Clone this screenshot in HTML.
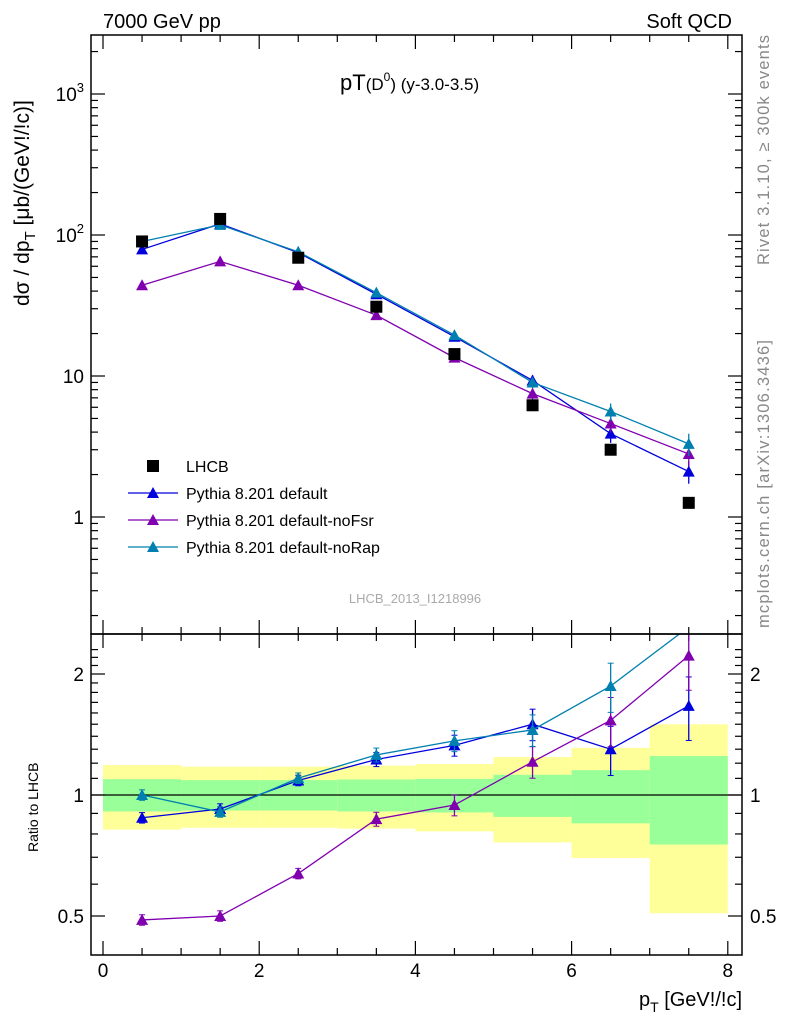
<!DOCTYPE html>
<html><head><meta charset="utf-8"><style>
body{margin:0;background:#fff;}
svg{display:block;font-family:"Liberation Sans",sans-serif;}
</style></head><body>
<svg id="c" width="786" height="1024" xmlns="http://www.w3.org/2000/svg">
<text x="103" y="28" font-size="20">7000 GeV pp</text>
<text x="732" y="28" font-size="20" text-anchor="end">Soft QCD</text>
<text x="340" y="90" font-size="22">pT<tspan font-size="17">(D</tspan><tspan font-size="12" dy="-9">0</tspan><tspan font-size="17" dy="9">) (y-3.0-3.5)</tspan></text>
<text transform="translate(29,306) rotate(-90)" font-size="21">dσ / dp<tspan font-size="15" dy="6">T</tspan><tspan dy="-6"> [μb/(GeV!/!c)]</tspan></text>
<text transform="translate(38,852) rotate(-90)" font-size="14">Ratio to LHCB</text>
<text x="742" y="1006" font-size="20" text-anchor="end">p<tspan font-size="14" dy="6">T</tspan><tspan dy="-6"> [GeV!/!c]</tspan></text>
<text transform="translate(769,265) rotate(-90)" font-size="16.5" fill="#888" textLength="230">Rivet 3.1.10, ≥ 300k events</text>
<text transform="translate(769,628) rotate(-90)" font-size="16.5" fill="#888" textLength="288">mcplots.cern.ch [arXiv:1306.3436]</text>
<text x="415" y="603" font-size="13" fill="#aaa" text-anchor="middle">LHCB_2013_I1218996</text>
<g id="bands"></g><g id="ticks"></g><g id="series"></g>
<rect x="91" y="35" width="651" height="599" fill="none" stroke="#000" stroke-width="1.5"/>
<rect x="91" y="634" width="651" height="321" fill="none" stroke="#000" stroke-width="1.5"/>
<g id="legend"></g>
</svg>
<script>
const xs=[0.5,1.5,2.5,3.5,4.5,5.5,6.5,7.5];
const lhcb=[90,130,69,31,14.3,6.2,3.0,1.26];
const pDef=[79,120,75,38,19,9.3,3.9,2.1];
const pNoFsr=[44,65,44,27,13.5,7.5,4.6,2.8];
const pNoRap=[90,118,76,39,19.5,9,5.6,3.3];
const relErr=[0.03,0.03,0.03,0.04,0.06,0.09,0.14,0.18];
const binEdges=[0,1,2,3,4,5,6,7,8];
const yelHi=[1.187,1.176,1.176,1.183,1.194,1.243,1.31,1.499];
const yelLo=[0.82,0.829,0.829,0.825,0.812,0.762,0.697,0.508];
const grnHi=[1.095,1.089,1.089,1.093,1.097,1.123,1.153,1.25];
const grnLo=[0.91,0.915,0.915,0.91,0.905,0.882,0.85,0.753];
const mainTicks=["1","10","10²","10³"];
const ratioTicks=[0.5,1,2];
const xTicks=[0,2,4,6,8];
const NS="http://www.w3.org/2000/svg";
const X=v=>103+v*78.1;
const Y=v=>517-141*Math.log10(v);
const R=v=>Math.min(955,Math.max(634,795-121*Math.log2(v)));
function mk(p,t,a){const e=document.createElementNS(NS,t);for(const k in a)e.setAttribute(k,a[k]);document.getElementById(p)?document.getElementById(p).appendChild(e):p.appendChild(e);return e;}
for(let i=0;i<8;i++){
 let e=mk('bands','rect',{x:X(binEdges[i]),y:R(yelHi[i]),width:X(binEdges[i+1])-X(binEdges[i]),height:R(yelLo[i])-R(yelHi[i]),fill:'#ffff99'});
 
 
 e=mk('bands','rect',{x:X(binEdges[i]),y:R(grnHi[i]),width:X(binEdges[i+1])-X(binEdges[i]),height:R(grnLo[i])-R(grnHi[i]),fill:'#99ff99'});
 
 
}
let l=mk('bands','line',{x1:91,x2:742,y1:R(1),y2:R(1),stroke:'#000','stroke-width':1.2});


const T=(x1,y1,x2,y2)=>mk('ticks','line',{x1,y1,x2,y2,stroke:'#000','stroke-width':1.2});
for(let d=-1;d<=3;d++)for(let m=1;m<10;m++){const v=m*Math.pow(10,d);const y=Y(v);if(y<35||y>634)continue;const L=m==1?14:7;T(91,y,91+L,y);T(742,y,742-L,y);}
mainTicks.forEach((t,i)=>{const tx=mk('ticks','text',{x:84,y:Y(Math.pow(10,i))+7,'font-size':19,'text-anchor':'end'});
 if(i>=2){tx.textContent='10';const s=mk(tx,'tspan',{dy:-9,'font-size':13});s.textContent=i==2?'2':'3';}else tx.textContent=t;
 
 });
for(let v=0.5;v<=2.4;v+=0.1){const y=R(v);if(y<=634||y>=955)continue;const maj=ratioTicks.some(r=>Math.abs(r-v)<1e-6);const L=maj?14:7;T(91,y,91+L,y);T(742,y,742-L,y);}
ratioTicks.forEach(r=>{[[84,'end'],[750,'start']].forEach(([x,a])=>{const tx=mk('ticks','text',{x,y:R(r)+7,'font-size':19,'text-anchor':a});tx.textContent=String(r);
 
 });});
for(let v=0;v<=8.001;v+=0.5){const x=X(v);const L=Math.abs(v-Math.round(v/2)*2)<1e-6?14:7;T(x,955,x,955-L);T(x,634,x,634+L);T(x,35,x,35+L);T(x,634,x,634-L);}
xTicks.forEach(v=>{const tx=mk('ticks','text',{x:X(v),y:977,'font-size':19,'text-anchor':'middle'});tx.textContent=v;
 
 });
function tri(g,x,y,c){return mk(g,'path',{d:`M${x-6},${y+5}L${x+6},${y+5}L${x},${y-6}Z`,fill:c});}
const sers=[[pDef,'#0000dd','pythia-default'],[pNoFsr,'#8000b0','pythia-nofsr'],[pNoRap,'#0080b0','pythia-norap']];
const clip=mk('series','clipPath',{id:'rc'});mk(clip,'rect',{x:91,y:634,width:651,height:321});
sers.forEach(([d,c,n])=>{
 const g=mk('series','g',{});
 
 
 mk(g,'polyline',{points:xs.map((x,i)=>X(x)+','+Y(d[i])).join(' '),fill:'none',stroke:c,'stroke-width':1.3});
 const gr=mk(g,'g',{'clip-path':'url(#rc)'});
 mk(gr,'polyline',{points:xs.map((x,i)=>X(x)+','+(795-121*Math.log2(d[i]/lhcb[i]))).join(' '),fill:'none',stroke:c,'stroke-width':1.3});
 xs.forEach((x,i)=>{
  const e=relErr[i];const r=d[i]/lhcb[i];
  mk(g,'line',{x1:X(x),x2:X(x),y1:Y(d[i]*(1+e)),y2:Y(d[i]*(1-e)),stroke:c,'stroke-width':1.3});
  tri(g,X(x),Y(d[i]),c);
  const ry=795-121*Math.log2(r);
  if(ry>634){mk(gr,'line',{x1:X(x),x2:X(x),y1:R(r*(1+e)),y2:R(r*(1-e)),stroke:c,'stroke-width':1.3});
  mk(gr,'line',{x1:X(x)-3,x2:X(x)+3,y1:R(r*(1+e)),y2:R(r*(1+e)),stroke:c});
  mk(gr,'line',{x1:X(x)-3,x2:X(x)+3,y1:R(r*(1-e)),y2:R(r*(1-e)),stroke:c});
  tri(gr,X(x),ry,c);}
 });
});
xs.forEach((x,i)=>{const e=mk('series','rect',{x:X(x)-6,y:Y(lhcb[i])-6,width:12,height:12,fill:'#000'});
 
 });
const lg=[['LHCB',null],['Pythia 8.201 default','#0000dd'],['Pythia 8.201 default-noFsr','#8000b0'],['Pythia 8.201 default-noRap','#0080b0']];
lg.forEach(([t,c],i)=>{const y=466+i*27;
 const g=mk('legend','g',{});
 
 
 if(c){mk(g,'line',{x1:128,x2:178,y1:y,y2:y,stroke:c,'stroke-width':1.3});tri(g,153,y,c);}
 else mk(g,'rect',{x:147,y:y-6,width:12,height:12,fill:'#000'});
 const tx=mk(g,'text',{x:186,y:y+6,'font-size':16});tx.textContent=t;});
</script>
</body></html>
